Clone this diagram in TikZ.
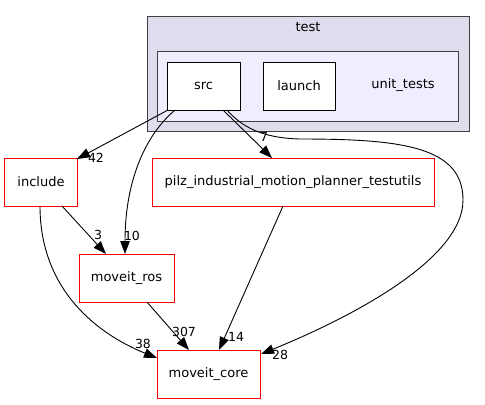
\documentclass[tikz,border=0pt]{standalone}
\usepackage{fontspec}
\setmainfont{DejaVu Sans}
\usetikzlibrary{arrows.meta}
\definecolor{clusterA}{HTML}{DDDDEE}
\definecolor{clusterB}{HTML}{EEEEFF}
\definecolor{clborder}{HTML}{404040}
\tikzset{
  every node/.style={font=\fontsize{13bp}{15bp}\selectfont, inner sep=0pt},
  dirbox/.style={draw=red, line width=1bp, fill=white, minimum height=48bp},
  srcbox/.style={draw=black, line width=1bp, fill=white, minimum height=48bp, minimum width=73bp},
  cluster/.style={draw=clborder, line width=1bp},
  edge/.style={draw=black, line width=0.9bp, -{Triangle[length=13bp,width=9.5bp]}},
  elabel/.style={font=\fontsize{12.5bp}{14bp}\selectfont}
}
\begin{document}
\begin{tikzpicture}[x=1bp,y=-1bp]
\useasboundingbox (0,0) rectangle (485,404);
% clusters
\draw[cluster, fill=clusterA] (147,16) rectangle (469,131);
\node (testlbl) at (308,27) {test};
\draw[cluster, fill=clusterB] (157,51) rectangle (458,121);
\node (utlbl) at (403,85) {unit\_tests};
% nodes
\node[srcbox] (src) at (203.5,86) {src};
\node[srcbox, minimum width=72bp] (launch) at (299,86) {launch};
\node[dirbox, minimum width=72bp] (include) at (41,182) {include};
\node[dirbox, minimum width=282bp] (pilz) at (293,182) {pilz\_industrial\_motion\_planner\_testutils};
\node[dirbox, minimum width=95bp] (ros) at (126.5,278) {moveit\_ros};
\node[dirbox, minimum width=103bp] (core) at (208.5,374) {moveit\_core};
% anchor coordinates
\coordinate (s1) at (168,110);
\coordinate (s2) at (175,110);
\coordinate (s3) at (223,110);
\coordinate (s4) at (227,110);
\coordinate (i1) at (40,206);
\coordinate (i2) at (62,206);
\coordinate (incT) at (77,159);
\coordinate (rosT1) at (125,254);
\coordinate (rosT2) at (106,254);
\coordinate (rosB) at (147,302);
\coordinate (pilzT) at (272,158);
\coordinate (pilzB) at (283,206);
\coordinate (coreT1) at (189,350);
\coordinate (coreT2) at (219,350);
\coordinate (coreL) at (157,358);
\coordinate (coreR) at (261,354);
% edges
\draw[edge] (s1) -- (incT);
\node[elabel] (l42) at (96,158) {42};
\draw[edge] (s2) .. controls (140,140) and (125,190) .. (rosT1);
\node[elabel] (l10) at (132,236) {10};
\draw[edge] (s3) -- (pilzT);
\node[elabel] (l7) at (264,137) {7};
\draw[edge] (s4) .. controls (242,127) and (262,138) .. (300,139) .. controls (400,139) and (463,146) .. (463,200) .. controls (463,262) and (340,322) .. (coreR);
\node[elabel] (l28) at (280,355) {28};
\draw[edge] (i2) -- (rosT2);
\node[elabel] (l3) at (98,235) {3};
\draw[edge] (i1) .. controls (40,292) and (100,335) .. (coreL);
\node[elabel] (l38) at (143,344) {38};
\draw[edge] (rosB) -- (coreT1);
\node[elabel] (l307) at (184,332) {307};
\draw[edge] (pilzB) -- (coreT2);
\node[elabel] (l14) at (236,337) {14};
\end{tikzpicture}
\end{document}
